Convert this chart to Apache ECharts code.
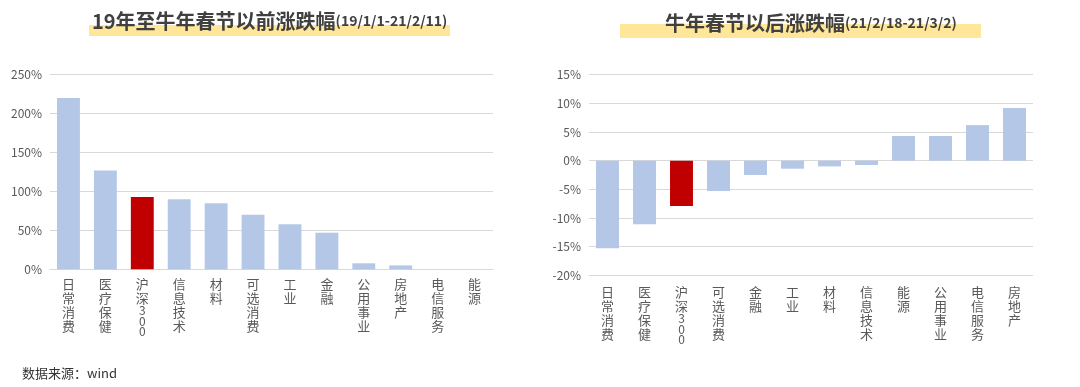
<!DOCTYPE html>
<html><head><meta charset="utf-8">
<script src="https://cdn.jsdelivr.net/npm/echarts@6/dist/echarts.min.js"></script>
<style>html,body{margin:0;padding:0;background:#fff}#c{width:1080px;height:387px}</style>
</head><body><div id="c"></div>
<script>
const leftCategories = ['日常消费','医疗保健','沪深300','信息技术','材料','可选消费','工业','金融','公用事业','房地产','电信服务','能源'];
const leftValues = [220, 127, 93, 90, 85, 70, 58, 47, 7.7, 5, 0, 0];
const rightCategories = ['日常消费','医疗保健','沪深300','可选消费','金融','工业','材料','信息技术','能源','公用事业','电信服务','房地产'];
const rightValues = [-15.3, -11.1, -7.9, -5.3, -2.5, -1.4, -1.0, -0.75, 4.3, 4.3, 6.2, 9.2];
const highlightName = '沪深300';
const leftTitle = ['19年至牛年春节以前涨跌幅', '(19/1/1-21/2/11)'];
const rightTitle = ['牛年春节以后涨跌幅', '(21/2/18-21/3/2)'];
const sourceText = '数据来源：wind';

const FONT = '"Noto Sans CJK SC", "Noto Sans", sans-serif';
const BLUE = '#B4C7E7', RED = '#C00000';

function vert(s) {
  return s.split('').map(ch => /[0-9]/.test(ch) ? '{d|' + ch + '}' : '{c|' + ch + '}').join('\n');
}
function barData(cats, vals) {
  return vals.map((v, i) => ({
    value: v,
    itemStyle: { color: cats[i] === highlightName ? RED : BLUE }
  }));
}
const titleRich = {
  a: { fontSize: 20, fontWeight: 'bold', color: '#404040', fontFamily: FONT },
  b: { fontSize: 14, fontWeight: 'bold', color: '#404040', fontFamily: FONT }
};
const xLabel = {
  color: '#595959', fontSize: 13, fontFamily: FONT, lineHeight: 14,
  interval: 0, margin: 8, formatter: v => vert(v),
  rich: {
    c: { color: '#595959', fontSize: 13, fontFamily: FONT, lineHeight: 14 },
    d: { color: '#595959', fontSize: 12, fontFamily: FONT, lineHeight: 10.5 }
  }
};
const yLabel = { color: '#595959', fontSize: 12, fontFamily: FONT, formatter: v => v + '%' };
const split = { show: true, lineStyle: { color: '#D9D9D9', width: 1 } };

const chart = echarts.init(document.getElementById('c'));
chart.setOption({
  animation: false,
  title: [
    { text: '{a|' + leftTitle[0] + '}{b|' + leftTitle[1] + '}', left: 87, top: 6, textStyle: { rich: titleRich } },
    { text: '{a|' + rightTitle[0] + '}{b|' + rightTitle[1] + '}', left: 660, top: 8, textStyle: { rich: titleRich } },
    { text: sourceText, left: 17, top: 362, textStyle: { fontSize: 13, fontWeight: 'normal', color: '#333', fontFamily: FONT } }
  ],
  graphic: [
    { type: 'rect', z: -1, shape: { x: 89, y: 25, width: 361, height: 11 }, style: { fill: '#FFE699' } },
    { type: 'rect', z: -1, shape: { x: 620, y: 24, width: 361, height: 14 }, style: { fill: '#FFE699' } }
  ],
  grid: [
    { left: 50, right: 587, top: 74.7, bottom: 117.7 },
    { left: 589, right: 47, top: 74.7, bottom: 111.7 }
  ],
  xAxis: [
    { type: 'category', gridIndex: 0, data: leftCategories, axisTick: { show: false },
      axisLine: { show: true, lineStyle: { color: '#D9D9D9' } }, axisLabel: xLabel },
    { type: 'category', gridIndex: 1, data: rightCategories, axisTick: { show: false },
      axisLine: { show: false, onZero: false }, axisLabel: Object.assign({}, xLabel, { margin: 10 }) }
  ],
  yAxis: [
    { type: 'value', gridIndex: 0, min: 0, max: 250, interval: 50, axisLabel: yLabel, splitLine: split,
      axisLine: { show: false }, axisTick: { show: false } },
    { type: 'value', gridIndex: 1, min: -20, max: 15, interval: 5, axisLabel: yLabel, splitLine: split,
      axisLine: { show: false }, axisTick: { show: false } }
  ],
  series: [
    { type: 'bar', xAxisIndex: 0, yAxisIndex: 0, data: barData(leftCategories, leftValues), barWidth: '62%' },
    { type: 'bar', xAxisIndex: 1, yAxisIndex: 1, data: barData(rightCategories, rightValues), barWidth: '62%' }
  ]
});
</script>
</body></html>
